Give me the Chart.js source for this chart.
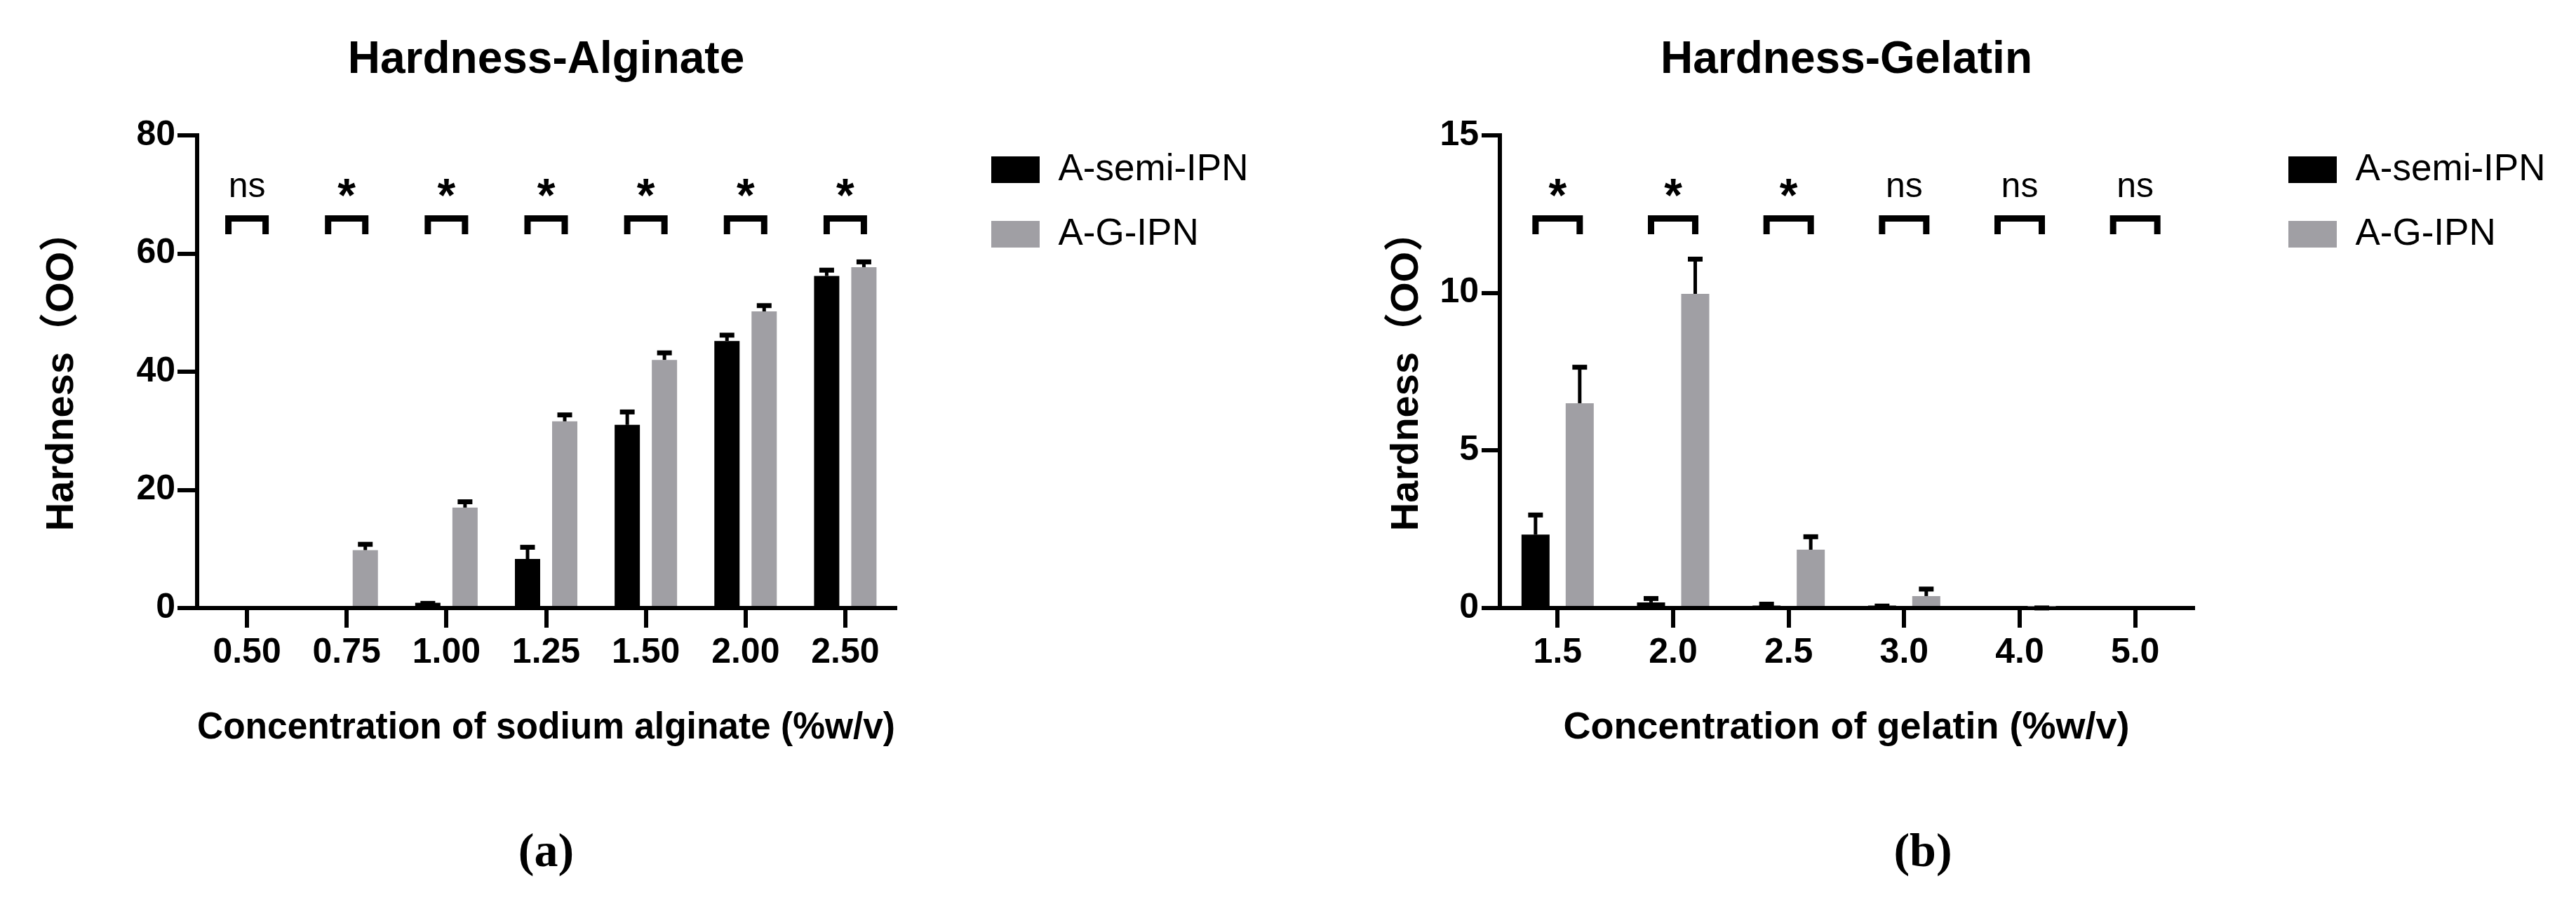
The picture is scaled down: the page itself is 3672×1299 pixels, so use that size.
<!DOCTYPE html>
<html><head><meta charset="utf-8">
<script src="https://cdn.jsdelivr.net/npm/chart.js@4.4.0/dist/chart.umd.min.js"></script>
<style>
html,body{margin:0;padding:0;background:#fff;}
body{width:3672px;height:1299px;position:relative;overflow:hidden;}
canvas{position:absolute;top:0;}
#cA{left:0;}
#cB{left:1810px;}
</style></head><body>
<canvas id="cA" width="1810" height="1299"></canvas>
<canvas id="cB" width="1862" height="1299"></canvas>
<script>
// ---------- data ----------
const seriesLabels = ['A-semi-IPN', 'A-G-IPN'];

const alginateCategories = ['0.50', '0.75', '1.00', '1.25', '1.50', '2.00', '2.50'];
const alginateSemi    = [0, 0.3, 0.9, 8.3, 31.0, 45.2, 56.2];
const alginateSemiErr = [0, 0, 0.3, 2.4, 2.6, 1.4, 1.4];
const alginateAG      = [0, 9.8, 17.0, 31.6, 42.0, 50.2, 57.7];
const alginateAGErr   = [0, 1.4, 1.4, 1.5, 1.6, 1.4, 1.3];
const alginateSig     = ['ns', '*', '*', '*', '*', '*', '*'];
const alginateYTicks  = [0, 20, 40, 60, 80];

const gelatinCategories = ['1.5', '2.0', '2.5', '3.0', '4.0', '5.0'];
const gelatinSemi    = [2.33, 0.18, 0.08, 0.08, 0, 0];
const gelatinSemiErr = [0.7, 0.2, 0.12, 0.06, 0, 0];
const gelatinAG      = [6.5, 9.97, 1.85, 0.38, 0.05, 0];
const gelatinAGErr   = [1.22, 1.18, 0.49, 0.3, 0.03, 0];
const gelatinSig     = ['*', '*', '*', 'ns', 'ns', 'ns'];
const gelatinYTicks  = [0, 5, 10, 15];

// annotation levels (data units): bracket top, bracket leg end, label centre
const alginateBracketLevels = [65.93, 63.26, 71.16];
const gelatinBracketLevels  = [12.36, 11.86, 13.34];

// ---------- styles ----------
const SANS = "'Liberation Sans', Arial, sans-serif";
const SANS_CJK = "'Liberation Sans', Arial, 'Noto Sans CJK SC', sans-serif";
const SERIF = "'Liberation Serif', 'Times New Roman', serif";
const BLACK = '#000000';
const GREY = '#a09fa4';

const LEG_FONT = 53, LEG_BOX_W = 69, LEG_BOX_H = 38, LEG_PAD = 39;
const Y_TITLE_FONT = 56;

// legend width: padding + box + fontSize/2 + text + 10 (as Chart.js computes), with some slack
function legendWidth() {
  const c = document.createElement('canvas').getContext('2d');
  c.font = LEG_FONT + 'px ' + SANS;
  const tw = Math.max(...seriesLabels.map(t => c.measureText(t).width));
  return Math.max(LEG_PAD + LEG_BOX_W + LEG_FONT / 2 + tw + 10, 430);
}
const LEG_W = legendWidth();

// keeps the legend at a fixed width (the layout otherwise caps it and clips the labels)
const legendWidthPlugin = {
  id: 'legendWidth',
  beforeLayout(chart, args, opts) {
    const lg = chart.legend;
    if (!lg || lg.__fixedWidth) return;
    const orig = lg.fit.bind(lg);
    lg.fit = function () { orig(); this.width = opts.width; };
    lg.__fixedWidth = true;
  }
};

const errorBarPlugin = {
  id: 'errbars',
  afterDatasetsDraw(chart, args, opts) {
    const ctx = chart.ctx, y = chart.scales.y;
    chart.data.datasets.forEach((ds, di) => {
      const meta = chart.getDatasetMeta(di);
      meta.data.forEach((bar, i) => {
        const e = ds.errors ? ds.errors[i] : 0;
        if (!e) return;
        const v = ds.data[i];
        const y0 = y.getPixelForValue(v);
        const y1 = y.getPixelForValue(v + e);
        ctx.save();
        ctx.strokeStyle = BLACK;
        ctx.lineCap = 'butt';
        ctx.lineWidth = opts.stem;
        ctx.beginPath();
        ctx.moveTo(bar.x, y0);
        ctx.lineTo(bar.x, y1 + opts.capT / 2);
        ctx.stroke();
        ctx.lineWidth = opts.capT;
        ctx.beginPath();
        ctx.moveTo(bar.x - opts.capW / 2, y1 + opts.capT / 2);
        ctx.lineTo(bar.x + opts.capW / 2, y1 + opts.capT / 2);
        ctx.stroke();
        ctx.restore();
      });
    });
  }
};

const sigPlugin = {
  id: 'sig',
  afterDatasetsDraw(chart, args, opts) {
    const ctx = chart.ctx, y = chart.scales.y;
    const m0 = chart.getDatasetMeta(0), m1 = chart.getDatasetMeta(1);
    const [top, bottom, textLevel] = opts.levels;
    opts.labels.forEach((lab, i) => {
      const xa = m0.data[i].x, xb = m1.data[i].x;
      const yt = y.getPixelForValue(top), yb = y.getPixelForValue(bottom);
      ctx.save();
      ctx.strokeStyle = BLACK;
      ctx.lineWidth = opts.lw;
      ctx.lineJoin = 'miter';
      ctx.lineCap = 'butt';
      ctx.beginPath();
      ctx.moveTo(xa, yb); ctx.lineTo(xa, yt); ctx.lineTo(xb, yt); ctx.lineTo(xb, yb);
      ctx.stroke();
      ctx.font = lab === '*' ? opts.starFont : opts.nsFont;
      ctx.fillStyle = BLACK;
      ctx.textAlign = 'center';
      ctx.textBaseline = 'alphabetic';
      const mt = ctx.measureText(lab);
      const cy = y.getPixelForValue(textLevel);
      const base = cy + (mt.actualBoundingBoxAscent - mt.actualBoundingBoxDescent) / 2;
      ctx.fillText(lab, (xa + xb) / 2, base);
      ctx.restore();
    });
  }
};

// cfg.plotLeft / plotRight / legendLeft: wanted canvas x of plot edges and of legend box
function makeChart(el, cfg) {
  const W = document.getElementById(el).width;
  const legendBoxLeft = cfg.legendLeft - LEG_PAD;
  const padR = Math.max(W - legendBoxLeft - LEG_W, 0);
  const padL = cfg.symmetric ? padR : 0;
  const yWidth = cfg.plotLeft - padL;
  const spacer = legendBoxLeft - cfg.plotRight;
  const yTitlePad = cfg.yTitleX - padL - Y_TITLE_FONT * 1.2 / 2;
  return new Chart(document.getElementById(el), {
    type: 'bar',
    data: {
      labels: cfg.categories,
      datasets: [
        { label: seriesLabels[0], data: cfg.semi, errors: cfg.semiErr, backgroundColor: BLACK,
          borderWidth: 0, yAxisID: 'y', categoryPercentage: cfg.catPct, barPercentage: cfg.barPct },
        { label: seriesLabels[1], data: cfg.ag, errors: cfg.agErr, backgroundColor: GREY,
          borderWidth: 0, yAxisID: 'y', categoryPercentage: cfg.catPct, barPercentage: cfg.barPct }
      ]
    },
    options: {
      responsive: false,
      devicePixelRatio: 1,
      animation: false,
      events: [],
      layout: { padding: { left: padL, right: padR, top: 0, bottom: 0 } },
      scales: {
        y: {
          type: 'linear', position: 'left', min: 0, max: cfg.yMax, z: 1,
          afterBuildTicks: s => { s.ticks = cfg.yTicks.map(v => ({ value: v })); },
          grid: { display: true, drawOnChartArea: false, drawTicks: true, tickLength: cfg.yTickLen,
                  lineWidth: 6, color: BLACK, tickColor: BLACK },
          border: { display: true, color: BLACK, width: 6 },
          ticks: { color: BLACK, padding: cfg.yTickPad, font: { family: SANS, size: 50, weight: 'bold' } },
          title: { display: true, text: 'Hardness（OO）', color: BLACK,
                   font: { family: SANS_CJK, size: Y_TITLE_FONT, weight: 'bold' },
                   padding: { top: yTitlePad, bottom: 0 } },
          afterFit: s => { s.width = yWidth; }
        },
        ySpacer: {
          type: 'linear', position: 'right', display: true,
          grid: { display: false, drawTicks: false },
          border: { display: false },
          ticks: { display: false },
          afterFit: s => { s.width = spacer; }
        },
        x: {
          type: 'category', position: 'bottom', offset: true, z: 1,
          grid: { display: true, drawOnChartArea: false, drawTicks: true, tickLength: 28,
                  lineWidth: 6, color: BLACK, tickColor: BLACK, offset: false },
          border: { display: true, color: BLACK, width: 6 },
          ticks: { color: BLACK, padding: 6, maxRotation: 0, autoSkip: false,
                   font: { family: SANS, size: 50, weight: 'bold' } },
          title: { display: true, text: cfg.xTitle, color: BLACK,
                   font: { family: SANS, size: 54, weight: 'bold' },
                   padding: { top: 0, bottom: 106 } },
          afterFit: s => { s.height = 309.4; }
        }
      },
      plugins: {
        tooltip: { enabled: false },
        title: { display: true, text: cfg.title, fullSize: false, color: BLACK,
                 font: { family: SANS, size: 64, weight: 'bold' },
                 padding: { top: 47.6, bottom: 68.6 } },
        subtitle: { display: true, position: 'bottom', text: cfg.panel, fullSize: cfg.symmetric, color: BLACK,
                    font: { family: SERIF, size: 68, weight: 'bold' },
                    padding: { top: 0, bottom: 41 } },
        legend: {
          display: true, position: 'right', align: 'start', fullSize: true,
          title: { display: true, text: '', font: { size: 10 }, padding: { top: 164.5, bottom: 0 } },
          labels: { boxWidth: LEG_BOX_W, boxHeight: LEG_BOX_H, padding: LEG_PAD, color: BLACK,
                    font: { family: SANS, size: LEG_FONT } }
        },
        legendWidth: { width: LEG_W },
        errbars: { stem: 5, capW: 21, capT: 7 },
        sig: { labels: cfg.sig, levels: cfg.levels, lw: 9,
               starFont: "bold 66px " + SANS, nsFont: "50px " + SANS }
      }
    },
    plugins: [legendWidthPlugin, errorBarPlugin, sigPlugin]
  });
}

makeChart('cA', {
  categories: alginateCategories, semi: alginateSemi, semiErr: alginateSemiErr,
  ag: alginateAG, agErr: alginateAGErr, sig: alginateSig, levels: alginateBracketLevels,
  yTicks: alginateYTicks, yMax: 80,
  title: 'Hardness-Alginate', xTitle: 'Concentration of sodium alginate (%w/v)', panel: '(a)', symmetric: false,
  plotLeft: 281, plotRight: 1276, legendLeft: 1413, yTitleX: 89,
  yTickLen: 28, yTickPad: 3, catPct: 0.746, barPct: 0.679
});

makeChart('cB', {
  categories: gelatinCategories, semi: gelatinSemi, semiErr: gelatinSemiErr,
  ag: gelatinAG, agErr: gelatinAGErr, sig: gelatinSig, levels: gelatinBracketLevels,
  yTicks: gelatinYTicks, yMax: 15,
  title: 'Hardness-Gelatin', xTitle: 'Concentration of gelatin (%w/v)', panel: '(b)', symmetric: true,
  plotLeft: 328, plotRight: 1316, legendLeft: 1452, yTitleX: 196,
  yTickLen: 26, yTickPad: 4, catPct: 0.765, barPct: 0.635
});
</script>
</body></html>
